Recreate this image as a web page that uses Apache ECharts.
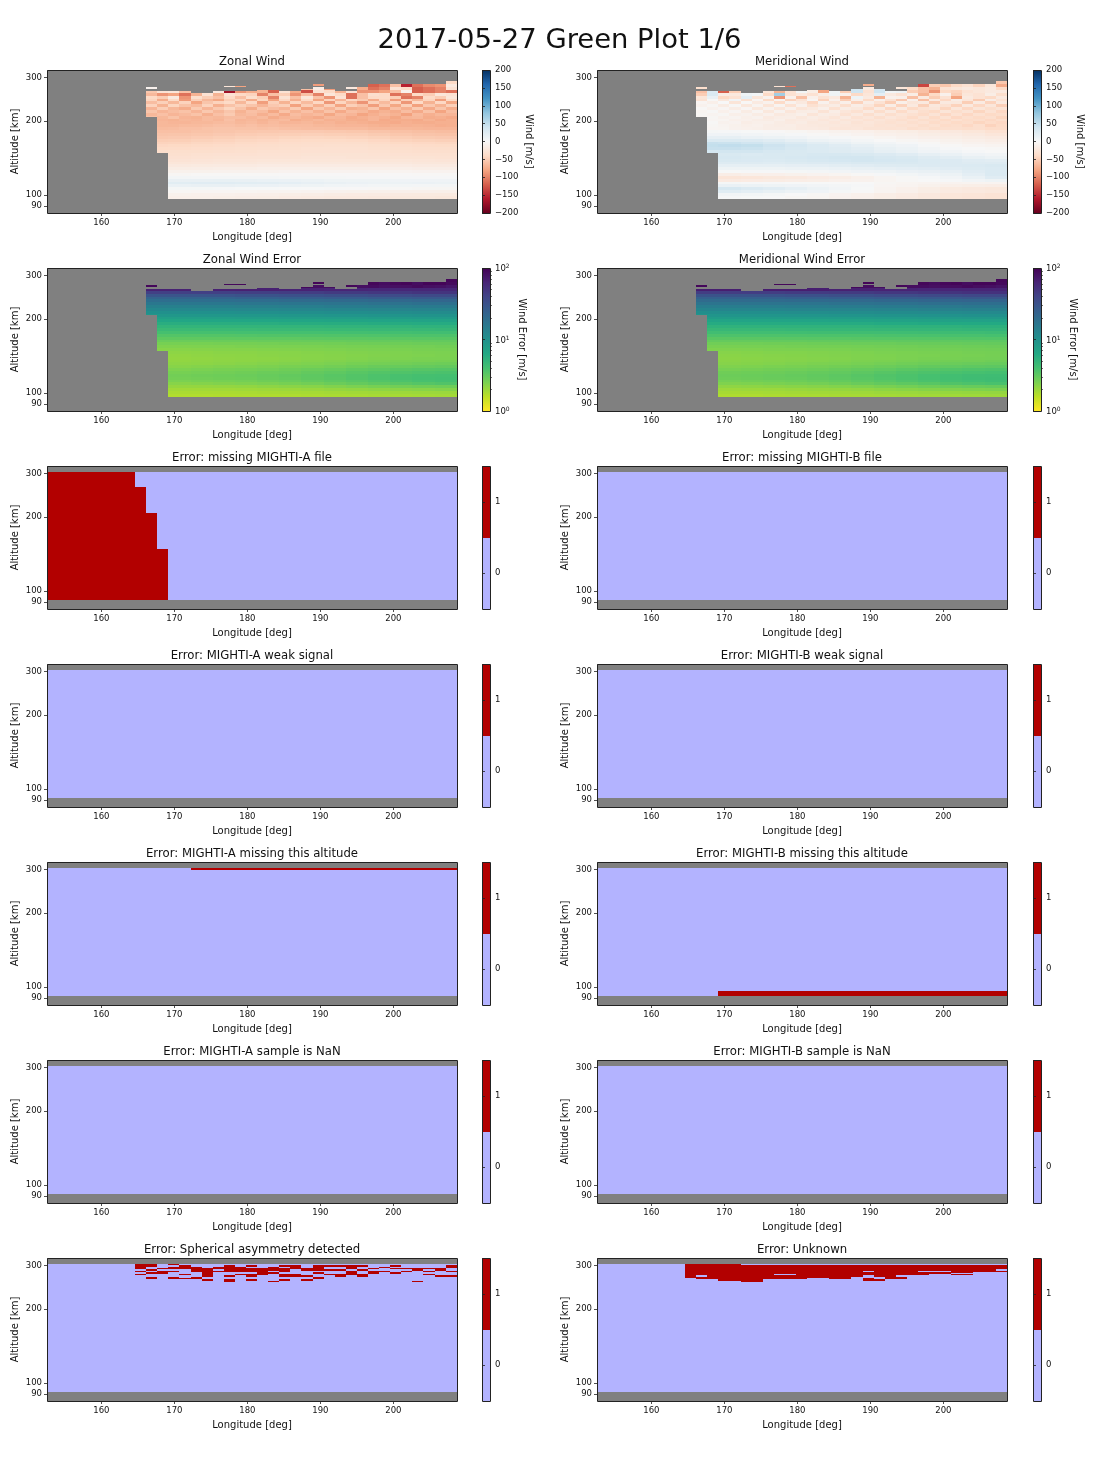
<!DOCTYPE html>
<html>
<head>
<meta charset="utf-8">
<title>2017-05-27 Green Plot 1/6</title>
<script src="https://cdn.jsdelivr.net/npm/echarts@6/dist/echarts.min.js"></script>
<style>
html,body{margin:0;padding:0;background:#fff}
#main{width:1120px;height:1470px}
</style>
</head>
<body>
<div id="main"></div>
<script>
// axes
var lonTicks = [160,170,180,190,200];
var altTicks = [90,100,200,300];
var altTickRows = [4.7,12.4,64.3,94.7];
var windTicks = [-200,-150,-100,-50,0,50,100,150,200];
var errMajorTicks = [0,1,2];
var errMinorTicks = [0.301,0.477,0.602,0.699,0.778,0.845,0.903,0.954,1.301,1.477,1.602,1.699,1.778,1.845,1.903,1.954];
var flagTicks = [0,1];
// column edges, longitude
var lonEdges = [152.45,153.97,155.49,157.01,158.53,160.05,161.57,163.09,164.61,166.13,167.65,169.17,170.69,172.21,173.73,175.25,176.77,178.29,179.81,181.33,182.85,184.37,185.89,187.41,188.93,190.45,191.97,193.49,195.01,196.53,198.05,199.57,201.09,202.61,204.13,205.65,207.17,209.00];
// row edges of the value tables
var lowerBandEdges = [10,12,14,16,18,20,22,24,26,28,30,32,34,36,38,40,42,44,46,48,50,52,54,56,58];
var upperBandEdges = [58,60,62,64,66,68,70,72,74,76,78,80,82,84,86];
var flagRows = [6,96];
// first row with data in the low columns, col 8 only in the flag panel
var firstDataCol = 9;
var firstRowByCol = {8:85,9:67,10:42};
// top of the continuous data, cols 9-36
var dataTopRow = [85,85,85,85,84,84,85,85,85,85,86,86,85,85,86,86,86,85,85,86,86,86,86,86,86,86,86,86];
// cells above that: col,row from,row to
var topCells = [[9,87,88],[16,88,89],[17,88,89],[23,86,87],[24,86,88],[24,89,90],[25,86,87],[27,87,88],[28,86,88],[29,86,88],[29,88,90],[30,86,88],[30,88,90],[31,86,88],[31,88,90],[32,86,88],[32,88,90],[33,86,88],[33,88,90],[34,86,88],[34,88,90],[35,86,88],[35,88,90],[36,86,88],[36,88,90],[36,90,92]];

// Zonal Wind, m/s
var zonalLower = [
[-12,-12,-12,-13,-14,-15,-17,-18,-20,-20,-21,-22,-22,-23],
[-9,-9,-10,-10,-11,-12,-13,-14,-16,-17,-17,-18,-19,-19],
[-3,-3,-4,-4,-5,-6,-6,-7,-8,-9,-10,-11,-11,-12],
[2,3,3,2,1,1,0,0,-1,-1,-2,-2,-3,-3],
[14,14,15,15,14,13,11,9,7,6,5,5,4,4],
[22,23,24,24,23,22,20,17,15,13,12,12,13,12],
[15,15,15,16,15,14,13,12,10,10,9,8,8,8],
[5,5,4,4,4,4,3,3,3,2,2,2,2,2],
[-3,-3,-2,-2,-2,-2,-1,-1,-1,-1,-1,-1,-2,-2],
[-10,-9,-9,-8,-8,-8,-7,-7,-7,-7,-6,-6,-7,-7],
[-15,-15,-14,-13,-13,-12,-12,-12,-12,-12,-12,-12,-13,-13],
[-20,-20,-19,-18,-18,-17,-17,-17,-17,-17,-17,-17,-18,-18],
[-25,-25,-24,-23,-23,-22,-22,-22,-22,-22,-22,-22,-23,-23],
[-28,-28,-27,-26,-26,-25,-25,-25,-25,-25,-25,-25,-26,-27],
[-31,-31,-30,-29,-28,-28,-28,-27,-27,-28,-28,-29,-29,-30],
[-33,-33,-32,-31,-31,-30,-30,-29,-29,-29,-30,-31,-32,-32],
[-36,-35,-35,-34,-33,-32,-32,-31,-31,-31,-32,-33,-34,-34],
[-39,-38,-37,-36,-35,-34,-33,-32,-32,-32,-33,-35,-36,-36],
[-42,-41,-40,-38,-37,-36,-35,-34,-33,-33,-35,-37,-38,-39],
[-46,-45,-43,-42,-40,-38,-37,-36,-36,-36,-38,-41,-42,-43],
[-50,-49,-47,-45,-43,-42,-40,-39,-39,-40,-42,-45,-47,-48],
[-54,-53,-51,-49,-47,-46,-44,-43,-44,-45,-47,-50,-52,-53],
[-57,-56,-55,-53,-51,-50,-49,-48,-49,-50,-52,-55,-57,-58],
[-60,-60,-58,-56,-55,-54,-53,-53,-54,-55,-57,-59,-61,-62]];
var zonalUpper = [
[-62,-63,-62,-60,-60,-58,-57,-57,-58,-58,-59,-58,-60,-61,-62,-62,-63,-64,-64,-64,-66,-66,-66,-66,-67,-68,-68,-68],
[-64,-66,-66,-64,-64,-62,-60,-60,-62,-60,-63,-62,-64,-64,-64,-66,-66,-68,-68,-68,-70,-72,-70,-71,-70,-71,-73,-72],
[-56,-66,-68,-68,-66,-66,-64,-62,-66,-64,-68,-64,-68,-68,-66,-70,-68,-72,-70,-72,-74,-74,-76,-72,-74,-74,-72,-72],
[-54,-68,-70,-66,-68,-64,-68,-60,-68,-66,-70,-66,-64,-74,-70,-66,-72,-70,-74,-74,-68,-76,-74,-74,-76,-70,-76,-72],
[-60,-66,-58,-68,-70,-64,-66,-62,-62,-68,-64,-74,-68,-66,-72,-76,-66,-68,-76,-72,-68,-72,-78,-68,-66,-74,-72,-76],
[-66,-60,-68,-64,-58,-72,-60,-52,-66,-62,-72,-64,-76,-62,-68,-64,-78,-64,-68,-80,-72,-66,-70,-82,-64,-72,-66,-68],
[-56,-68,-62,-58,-68,-54,-66,-56,-70,-60,-64,-78,-58,-70,-60,-72,-58,-76,-62,-66,-76,-70,-74,-62,-76,-58,-80,-62],
[-68,-50,-66,-74,-52,-68,-54,-44,-58,-74,-54,-62,-68,-52,-80,-54,-68,-52,-74,-70,-56,-80,-60,-72,-52,-76,-56,-74],
[-46,-70,-44,-58,-64,-46,-72,-58,-48,-56,-68,-54,-48,-82,-50,-72,-48,-80,-48,-58,-84,-54,-78,-48,-82,-54,-70,-48],
[-62,-48,-66,-46,-80,-56,-46,-40,-66,-42,-84,-48,-70,-44,-64,-42,-88,-44,-66,-90,-48,-64,-46,-88,-40,-70,-42,-78],
[-44,-74,-40,-86,-48,-66,-78,-50,-44,-74,-44,-80,-42,-72,-40,-80,-46,-68,-42,-52,-74,-44,-84,-48,-66,-44,-84,-40],
[-40,-50,-20,-90,-35,-50,-60,-40,-60,-35,-50,-100,-30,-60,-25,-60,-90,-30,-110,-60,-40,-40,-50,-110,-100,-40,-50,-25],
[-65,-90,-80,-110,-70,-30,-70,-30,-40,-45,-100,-60,-50,-90,-60,-100,-25,-40,-110,-60,-35,-40,-110,-100,-40,-50,-25,-30],
[-55,-30,-25,-60,-70,-30,-20,-170,-90,-75,-70,-120,-30,-75,-130,-30,-40,-70,-30,-90,-90,-80,-60,-10,-120,-110,-100,-110]];
var zonalTop = [-8,-25,-80,-60,-15,-85,-85,-20,-75,-110,-120,-100,-110,-30,-60,-40,-155,-120,-110,-110,-95,-100,-90,-30,-20,-40];

// Meridional Wind, m/s
var meridLower = [
[2,2,1,0,-3,-5,-8,-11,-15,-18,-22,-25,-27,-29],
[6,6,5,3,0,-3,-7,-10,-14,-17,-21,-24,-26,-28],
[26,24,20,16,12,8,3,-1,-6,-10,-15,-18,-20,-22],
[36,34,28,24,18,12,6,1,-6,-10,-15,-19,-21,-23],
[14,14,12,10,8,6,4,2,-4,-6,-9,-12,-13,-14],
[3,3,2,2,1,1,0,0,-3,-5,-6,-7,-6,-6],
[-18,-18,-17,-16,-14,-13,-10,-8,-5,-2,0,2,6,10],
[-26,-26,-24,-22,-20,-17,-14,-10,-5,-2,2,6,14,24],
[-14,-14,-12,-11,-9,-7,-5,-2,2,5,8,12,20,30],
[0,1,2,2,3,4,6,8,10,13,15,18,24,30],
[10,10,10,10,12,12,14,16,18,20,22,24,27,30],
[18,18,18,18,19,20,22,24,26,27,28,28,30,32],
[26,26,26,25,27,28,30,32,32,32,30,28,26,26],
[32,32,31,30,32,34,36,38,36,34,30,28,24,22],
[34,34,32,32,34,36,38,38,34,32,26,22,16,12],
[32,32,30,32,32,34,34,32,28,24,18,14,8,6],
[36,38,38,34,32,30,26,24,18,14,8,6,2,0],
[46,46,44,40,34,30,26,22,16,12,6,2,0,-2],
[48,50,48,42,36,30,24,18,12,8,2,-2,-4,-6],
[46,44,40,34,28,22,16,10,6,2,-2,-6,-8,-10],
[30,30,28,24,18,12,8,4,0,-3,-6,-9,-12,-14],
[18,18,14,12,8,4,2,-2,-5,-8,-11,-13,-16,-18],
[8,8,6,4,2,-2,-4,-7,-10,-12,-15,-17,-20,-24],
[3,2,1,-1,-3,-6,-8,-10,-13,-15,-18,-21,-25,-30]];
var meridUpper = [
[-3,-4,-5,-8,-10,-12,-14,-14,-15,-18,-18,-20,-24,-26,-24,-28,-28,-30,-28,-34,-32,-36,-34,-34,-36,-34,-38,-38],
[-2,-3,-6,-9,-12,-10,-14,-16,-14,-18,-20,-22,-22,-24,-26,-26,-30,-28,-32,-30,-36,-32,-38,-36,-42,-34,-46,-40],
[-2,-2,-8,-7,-14,-12,-12,-16,-18,-16,-22,-20,-24,-22,-28,-24,-28,-32,-28,-34,-30,-38,-34,-40,-36,-44,-38,-42],
[0,-4,-5,-10,-10,-14,-16,-12,-20,-18,-18,-24,-20,-26,-24,-30,-26,-30,-34,-30,-36,-34,-40,-32,-38,-36,-42,-36],
[-4,-3,-8,-6,-12,-8,-18,-14,-14,-22,-16,-20,-26,-18,-30,-24,-34,-24,-30,-38,-28,-40,-30,-42,-34,-40,-34,-44],
[-3,-6,-3,-12,-8,-16,-10,-20,-16,-12,-26,-16,-18,-30,-20,-34,-22,-34,-26,-32,-38,-28,-42,-30,-42,-32,-40,-36],
[-5,-2,-10,-4,-16,-6,-22,-8,-24,-16,-14,-28,-14,-24,-32,-18,-36,-20,-38,-24,-34,-40,-26,-36,-28,-44,-30,-42],
[-2,-8,-4,-14,-4,-22,-8,-24,-10,-26,-20,-12,-32,-16,-22,-38,-18,-42,-18,-40,-30,-26,-44,-24,-42,-26,-36,-28],
[-8,-3,-16,-2,-22,-6,-26,-6,-30,-10,-32,-22,-16,-34,-14,-24,-44,-14,-46,-20,-48,-22,-30,-46,-20,-42,-24,-48],
[-4,-12,0,-26,-2,-18,-8,-38,-8,-20,-42,-8,-28,-12,-46,-14,-30,-50,-12,-26,-20,-52,-20,-22,-50,-18,-46,-20],
[-28,-2,-22,6,-32,-4,-40,-6,-46,-28,-4,-46,-10,-50,-12,-40,-10,-30,-54,-10,-60,-18,-42,-14,-24,-52,-14,-30],
[-25,15,-40,-30,20,-25,-8,-90,-10,-60,-10,-30,-20,-70,10,-20,-70,-10,-12,-60,-20,-50,-30,-80,-20,-30,-40,-20],
[-50,30,-15,-20,10,5,-40,70,-30,-20,-30,-15,10,-10,-40,-25,20,-20,-30,-15,-70,-40,-10,-50,-25,-30,-15,-35],
[-60,30,-120,-50,50,10,-25,-70,-30,5,-15,-80,10,-50,40,-30,40,5,10,-50,-60,-90,-40,-45,-30,-25,-20,-20]];
var meridTop = [-35,-30,-110,40,-20,-75,35,-25,-40,-60,-135,-70,-50,-30,-55,-25,-40,-20,-30,-25,-45,-20,-25,-40,-75,-55];

// Wind errors, m/s
var zonalErrLower = [
[1.72,1.72,1.72,1.73,1.74,1.75,1.76,1.78,1.8,1.82,1.84,1.86,1.88,1.9],
[1.8,1.8,1.8,1.8,1.82,1.84,1.85,1.87,1.9,1.92,1.95,1.98,2,2.02],
[1.92,1.92,1.92,1.94,1.96,1.98,2,2.05,2.1,2.15,2.2,2.25,2.3,2.35],
[2.08,2.1,2.1,2.12,2.15,2.2,2.25,2.3,2.4,2.5,2.6,2.7,2.75,2.8],
[2.3,2.3,2.35,2.4,2.45,2.5,2.6,2.7,2.85,3,3.15,3.3,3.45,3.55],
[2.5,2.5,2.55,2.6,2.65,2.75,2.85,3,3.15,3.3,3.5,3.7,3.85,3.95],
[2.65,2.65,2.7,2.75,2.8,2.9,3,3.15,3.3,3.5,3.7,3.85,4,4.05],
[2.7,2.7,2.75,2.8,2.85,2.95,3.05,3.2,3.35,3.5,3.7,3.85,3.95,4],
[2.6,2.6,2.65,2.7,2.75,2.85,2.9,3.05,3.2,3.35,3.5,3.6,3.7,3.75],
[2.45,2.45,2.5,2.55,2.6,2.65,2.75,2.85,2.95,3.1,3.2,3.3,3.4,3.45],
[2.3,2.3,2.35,2.4,2.42,2.48,2.55,2.6,2.7,2.8,2.9,2.95,3,3.05],
[2.2,2.2,2.22,2.25,2.3,2.35,2.4,2.45,2.5,2.6,2.65,2.7,2.75,2.8],
[2.15,2.15,2.18,2.2,2.22,2.25,2.3,2.35,2.4,2.45,2.5,2.55,2.55,2.6],
[2.12,2.12,2.15,2.18,2.2,2.22,2.25,2.3,2.32,2.38,2.42,2.45,2.5,2.5],
[2.15,2.15,2.18,2.2,2.22,2.25,2.28,2.3,2.33,2.36,2.4,2.42,2.45,2.48],
[2.2,2.2,2.22,2.25,2.25,2.28,2.3,2.33,2.36,2.4,2.42,2.45,2.48,2.5],
[2.3,2.3,2.32,2.35,2.35,2.38,2.4,2.42,2.45,2.48,2.5,2.52,2.55,2.58],
[2.42,2.42,2.45,2.45,2.48,2.5,2.5,2.52,2.55,2.58,2.6,2.62,2.65,2.68],
[2.6,2.6,2.6,2.62,2.62,2.65,2.68,2.7,2.72,2.75,2.78,2.8,2.82,2.85],
[2.85,2.85,2.85,2.88,2.88,2.9,2.9,2.92,2.95,2.98,3,3,3.05,3.05],
[3.15,3.15,3.15,3.15,3.18,3.2,3.2,3.22,3.25,3.25,3.28,3.3,3.32,3.35],
[3.5,3.5,3.5,3.5,3.52,3.55,3.55,3.55,3.58,3.6,3.62,3.65,3.68,3.7],
[3.95,3.95,3.95,3.95,3.98,4,4,4,4.02,4.05,4.08,4.1,4.12,4.15],
[4.5,4.5,4.5,4.5,4.52,4.55,4.55,4.55,4.6,4.6,4.65,4.65,4.7,4.72]];
var zonalErrUpper = [
[5,5,5,5,5.1,5.1,5.2],
[5.7,5.7,5.7,5.8,5.8,5.9,6],
[6.6,6.6,6.6,6.7,6.8,6.9,7],
[7.6,7.6,7.7,7.8,7.9,8,8.2],
[8.8,8.8,8.9,9,9.2,9.4,9.6],
[10.2,10.2,10.3,10.5,10.7,11,11.2],
[11.8,11.8,12,12.2,12.5,12.8,13],
[13.8,13.8,14,14.2,14.6,15,15.4],
[16,16,16.4,16.8,17.2,17.8,18.2],
[19,19,19.5,20,20.6,21.4,22],
[23,23,24,25,26,27,28],
[30,30,31,32,33,35,36],
[42,42,43,44,46,48,50],
[65,65,66,64,62,60,60]];
var zonalErrTop = [92,90,92,90,82,95,85,92,82,85,92,80,85,82,92,82,95,88,85,82,95,80,95,75,88,92];
var meridErrLower = [
[1.76,1.76,1.76,1.78,1.8,1.82,1.84,1.86,1.88,1.9,1.92,1.94,1.96,1.98],
[1.85,1.85,1.85,1.88,1.9,1.92,1.94,1.96,2,2.02,2.05,2.08,2.1,2.12],
[1.98,1.98,2,2,2.04,2.08,2.1,2.15,2.22,2.28,2.34,2.4,2.44,2.48],
[2.18,2.18,2.2,2.24,2.28,2.32,2.38,2.45,2.55,2.66,2.78,2.88,2.95,3],
[2.42,2.42,2.46,2.52,2.58,2.65,2.75,2.9,3.05,3.2,3.35,3.55,3.7,3.8],
[2.62,2.62,2.68,2.74,2.8,2.9,3.02,3.18,3.35,3.55,3.75,3.95,4.1,4.2],
[2.78,2.78,2.84,2.9,2.96,3.06,3.18,3.34,3.52,3.72,3.92,4.1,4.25,4.3],
[2.84,2.84,2.88,2.94,3,3.1,3.22,3.38,3.55,3.72,3.92,4.08,4.2,4.25],
[2.75,2.75,2.8,2.84,2.9,3,3.08,3.22,3.38,3.55,3.7,3.82,3.92,3.98],
[2.58,2.58,2.62,2.68,2.74,2.8,2.9,3,3.12,3.28,3.4,3.5,3.6,3.65],
[2.42,2.42,2.46,2.52,2.55,2.62,2.68,2.75,2.85,2.96,3.05,3.12,3.18,3.22],
[2.32,2.32,2.34,2.38,2.42,2.48,2.52,2.58,2.65,2.74,2.8,2.85,2.9,2.95],
[2.26,2.26,2.3,2.32,2.35,2.38,2.42,2.48,2.52,2.58,2.64,2.68,2.7,2.75],
[2.24,2.24,2.26,2.3,2.32,2.35,2.38,2.42,2.45,2.5,2.55,2.58,2.62,2.65],
[2.26,2.26,2.3,2.32,2.34,2.38,2.4,2.42,2.46,2.5,2.52,2.55,2.58,2.62],
[2.32,2.32,2.34,2.38,2.38,2.4,2.42,2.46,2.5,2.52,2.55,2.58,2.62,2.64],
[2.42,2.42,2.45,2.48,2.48,2.5,2.52,2.55,2.58,2.62,2.64,2.66,2.7,2.72],
[2.56,2.56,2.58,2.58,2.62,2.64,2.64,2.66,2.7,2.72,2.75,2.76,2.8,2.82],
[2.74,2.74,2.74,2.76,2.76,2.8,2.82,2.85,2.86,2.9,2.92,2.95,2.98,3],
[3,3,3,3.04,3.04,3.05,3.05,3.08,3.1,3.14,3.16,3.16,3.2,3.2],
[3.3,3.3,3.3,3.3,3.34,3.36,3.36,3.38,3.42,3.42,3.45,3.48,3.5,3.52],
[3.68,3.68,3.68,3.68,3.7,3.72,3.72,3.72,3.76,3.78,3.8,3.84,3.86,3.9],
[4.15,4.15,4.15,4.15,4.18,4.2,4.2,4.2,4.22,4.26,4.28,4.3,4.32,4.36],
[4.7,4.7,4.7,4.7,4.74,4.78,4.78,4.78,4.82,4.82,4.88,4.88,4.94,4.96]];
var meridErrUpper = [
[5.2,5.2,5.2,5.2,5.3,5.3,5.4],
[6,6,6,6,6.1,6.2,6.2],
[6.9,6.9,6.9,7,7.1,7.2,7.3],
[8,8,8,8.1,8.2,8.4,8.5],
[9.2,9.2,9.3,9.4,9.6,9.8,10],
[10.6,10.6,10.8,11,11.2,11.4,11.6],
[12.4,12.4,12.6,12.8,13,13.4,13.6],
[14.4,14.4,14.6,15,15.2,15.6,16],
[17,17,17.2,17.6,18,18.6,19],
[20,20,20.4,21,21.6,22.4,23],
[24,24,25,26,27,28,29],
[31,31,32,33,35,36,37],
[44,44,45,46,48,50,52],
[68,68,68,66,64,62,62]];
var meridErrTop = [92,92,92,90,84,95,85,92,84,85,92,82,86,84,92,84,95,90,86,84,95,82,95,78,90,92];

// Error flags, red spans as col,row from,row to
var missingAFileSpans = [[0,6,96],[1,6,96],[2,6,96],[3,6,96],[4,6,96],[5,6,96],[6,6,96],[7,6,96],[8,6,85],[9,6,67],[10,6,42]];
var missingAAltSpans = [[13,94.6,96],[14,94.6,96],[15,94.6,96],[16,94.6,96],[17,94.6,96],[18,94.6,96],[19,94.6,96],[20,94.6,96],[21,94.6,96],[22,94.6,96],[23,94.6,96],[24,94.6,96],[25,94.6,96],[26,94.6,96],[27,94.6,96],[28,94.6,96],[29,94.6,96],[30,94.6,96],[31,94.6,96],[32,94.6,96],[33,94.6,96],[34,94.6,96],[35,94.6,96],[36,94.6,96]];
var missingBAltSpans = [[11,6,10],[12,6,10],[13,6,10],[14,6,10],[15,6,10],[16,6,10],[17,6,10],[18,6,10],[19,6,10],[20,6,10],[21,6,10],[22,6,10],[23,6,10],[24,6,10],[25,6,10],[26,6,10],[27,6,10],[28,6,10],[29,6,10],[30,6,10],[31,6,10],[32,6,10],[33,6,10],[34,6,10],[35,6,10],[36,6,10]];
var sphericalSpans = [[8,92,96],[8,90,91],[8,88,89],[9,94,96],[9,91,92],[9,89,90],[9,85,87],[10,92,93],[10,89,91],[11,95,96],[11,92,94],[11,90,91],[11,85,87],[12,92,95],[12,88,89],[12,85,86],[13,90,94],[13,85,87],[14,87,93],[14,84,85],[15,92,94],[15,90,91],[16,90,95],[16,87,88],[16,83,85],[17,90,94],[17,88,89],[18,94,95],[18,90,93],[18,87,89],[18,84,85],[19,88,93],[20,92,94],[20,91,92],[20,89,90],[20,83,84],[21,94,95],[21,90,93],[21,87,89],[21,84,85],[22,92,95],[22,87,89],[23,91,93],[23,87,88],[23,84,85],[24,91,95],[24,89,90],[24,85,87],[25,94,95],[25,91,92],[25,88,89],[26,94,95],[26,91,92],[26,87,89],[27,92,95],[27,88,91],[28,94,95],[28,91,92],[28,87,89],[29,92,93],[29,89,91],[30,93,94],[30,90,91],[31,94,95],[31,92,93],[31,89,90],[32,92,93],[32,90,91],[33,91,93],[33,83,84],[34,92,93],[34,90,91],[34,88,89],[35,91,93],[35,87,88],[36,93,95],[36,90,91],[36,87,88]];
// Unknown: red from bottom to top for cols 8-36, then holes
var unknownCols = [8,9,10,11,12,13,14,15,16,17,18,19,20,21,22,23,24,25,26,27,28,29,30,31,32,33,34,35,36];
var unknownTop = [96,96,96,96,96,95,95,95,95,95,95,95,95,95,95,95,95,95,95,95,95,95,95,95,95,95,95,95,95];
var unknownBottom = [86,85,85,84,84,83,83,85,85,85,85,86,86,85,85,87,84,84,85,85,88,88,89,89,88,88,90,90,90];
var unknownHoles = [[9,87,88],[16,88,89],[17,88,89],[24,90,91],[24,86,88],[25,85.5,87],[27,87,88],[29,90,91],[30,90,91],[31,90,91],[32,88.6,89.4],[33,88.6,89.4],[36,91,92]];

// colours
var rdbuStops = ['#67001f','#b2182b','#d6604d','#f4a582','#fddbc7','#f7f7f7','#d1e5f0','#92c5de','#4393c3','#2166ac','#053061'];
var viridisStops = ['#fde725','#bddf26','#7ad151','#44bf70','#22a884','#21918c','#2a788e','#355f8d','#414487','#482475','#440154'];
var flagColors = ['#b3b3ff','#b20000'];

function hexRgb(h){
	return [parseInt(h.substr(1,2),16),parseInt(h.substr(3,2),16),parseInt(h.substr(5,2),16)];
}
function stopColor(stops,t){
	t = Math.max(0,Math.min(1,t))*(stops.length-1);
	var i = Math.min(Math.floor(t),stops.length-2);
	var a = hexRgb(stops[i]), b = hexRgb(stops[i+1]), f = t-i;
	return 'rgb('+Math.round(a[0]+(b[0]-a[0])*f)+','+Math.round(a[1]+(b[1]-a[1])*f)+','+Math.round(a[2]+(b[2]-a[2])*f)+')';
}
var windColor = function(v){return stopColor(rdbuStops,(v+200)/400);};
var errColor = function(v){return stopColor(viridisStops,Math.log(v)/Math.LN10/2);};
var flagColor = function(v){return flagColors[v];};

// table -> cells
function bandCells(cells,edges,table){
	table.forEach(function(vals,b){
		for(var i=0;i<dataTopRow.length;i++){
			var col = firstDataCol+i;
			var r0 = Math.max(edges[b],firstRowByCol[col]||0);
			var r1 = Math.min(edges[b+1],dataTopRow[i]);
			if(r1>r0){
				cells.push([lonEdges[col],lonEdges[col+1],r0,r1,vals[Math.floor(i*vals.length/dataTopRow.length)]]);
			}
		}
	});
}
function windCells(lower,upper,top){
	var cells = [];
	bandCells(cells,lowerBandEdges,lower);
	bandCells(cells,upperBandEdges,upper);
	topCells.forEach(function(c,i){
		cells.push([lonEdges[c[0]],lonEdges[c[0]+1],c[1],c[2],top[i]]);
	});
	return cells;
}
function flagCells(spans){
	var cells = [[lonEdges[0],lonEdges[37],flagRows[0],flagRows[1],0]];
	spans.forEach(function(s){
		cells.push([lonEdges[s[0]],lonEdges[s[0]+1],s[1],s[2],1]);
	});
	return cells;
}
function unknownCells(){
	var spans = [];
	unknownCols.forEach(function(c,i){spans.push([c,unknownBottom[i],unknownTop[i]]);});
	var cells = flagCells(spans);
	unknownHoles.forEach(function(s){
		cells.push([lonEdges[s[0]],lonEdges[s[0]+1],s[1],s[2],0]);
	});
	return cells;
}

var panels = [
	{title:'Zonal Wind',cells:windCells(zonalLower,zonalUpper,zonalTop),color:windColor,bar:'wind'},
	{title:'Meridional Wind',cells:windCells(meridLower,meridUpper,meridTop),color:windColor,bar:'wind'},
	{title:'Zonal Wind Error',cells:windCells(zonalErrLower,zonalErrUpper,zonalErrTop),color:errColor,bar:'err'},
	{title:'Meridional Wind Error',cells:windCells(meridErrLower,meridErrUpper,meridErrTop),color:errColor,bar:'err'},
	{title:'Error: missing MIGHTI-A file',cells:flagCells(missingAFileSpans),color:flagColor,bar:'flag'},
	{title:'Error: missing MIGHTI-B file',cells:flagCells([]),color:flagColor,bar:'flag'},
	{title:'Error: MIGHTI-A weak signal',cells:flagCells([]),color:flagColor,bar:'flag'},
	{title:'Error: MIGHTI-B weak signal',cells:flagCells([]),color:flagColor,bar:'flag'},
	{title:'Error: MIGHTI-A missing this altitude',cells:flagCells(missingAAltSpans),color:flagColor,bar:'flag'},
	{title:'Error: MIGHTI-B missing this altitude',cells:flagCells(missingBAltSpans),color:flagColor,bar:'flag'},
	{title:'Error: MIGHTI-A sample is NaN',cells:flagCells([]),color:flagColor,bar:'flag'},
	{title:'Error: MIGHTI-B sample is NaN',cells:flagCells([]),color:flagColor,bar:'flag'},
	{title:'Error: Spherical asymmetry detected',cells:flagCells(sphericalSpans),color:flagColor,bar:'flag'},
	{title:'Error: Unknown',cells:unknownCells(),color:flagColor,bar:'flag'}
];

// layout
var FONT = 'DejaVu Sans';
var TEXT = '#111';
var panelLeft = [47,597];
var panelTop = [70,268,466,664,862,1060,1258];
var panelW = 410, panelH = 143;
var barOffset = [435,436], barW = 8;

var option = {
	animation:false,
	backgroundColor:'#fff',
	textStyle:{fontFamily:FONT},
	title:[{text:'2017-05-27 Green Plot 1/6',left:559.5,top:27,padding:0,textAlign:'center',textStyle:{fontFamily:FONT,fontSize:27.4,fontWeight:'normal',color:TEXT}}],
	grid:[],xAxis:[],yAxis:[],series:[],
	graphic:{elements:[]}
};

function tickStyle(len){
	return {show:true,length:len,lineStyle:{color:'#222',width:0.8}};
}
function frame(x,y,w,h){
	option.graphic.elements.push({type:'rect',z:100,silent:true,shape:{x:x+0.5,y:y+0.5,width:w,height:h},style:{fill:'transparent',stroke:'#222',lineWidth:1}});
}
function cellSeries(gi,yi,cells,color){
	return {
		type:'custom',xAxisIndex:gi,yAxisIndex:yi,data:cells,silent:true,clip:true,
		encode:{x:[0,1],y:[2,3]},
		renderItem:function(params,api){
			var p0 = api.coord([api.value(0),api.value(2)]);
			var p1 = api.coord([api.value(1),api.value(3)]);
			var x0 = Math.round(p0[0]), x1 = Math.round(p1[0]), y0 = Math.round(p0[1]), y1 = Math.round(p1[1]);
			var rect = echarts.graphic.clipRectByRect({x:x0,y:y1,width:x1-x0,height:y0-y1},params.coordSys);
			return rect && {type:'rect',shape:rect,style:{fill:color(api.value(4))}};
		}
	};
}

panels.forEach(function(p,i){
	var left = panelLeft[i%2], top = panelTop[Math.floor(i/2)];
	// main panel
	var gi = option.grid.length;
	option.grid.push({left:left,top:top,width:panelW,height:panelH,show:true,backgroundColor:'#808080',borderWidth:0});
	option.title.push({text:p.title,left:left+205,top:top-14,padding:0,textAlign:'center',textStyle:{fontFamily:FONT,fontSize:11.7,fontWeight:'normal',color:TEXT}});
	option.xAxis.push({
		type:'value',gridIndex:gi,min:152.55,max:208.72,z:10,splitLine:{show:false},axisLine:{show:false},
		axisTick:Object.assign(tickStyle(3),{customValues:lonTicks}),
		axisLabel:{customValues:lonTicks,fontFamily:FONT,fontSize:8.5,color:TEXT,margin:5},
		name:'Longitude [deg]',nameLocation:'middle',nameGap:19,nameTextStyle:{fontFamily:FONT,fontSize:10,color:TEXT}
	});
	var yi = option.yAxis.length;
	option.yAxis.push({
		type:'value',gridIndex:gi,min:0,max:100,z:10,splitLine:{show:false},axisLine:{show:false},
		axisTick:Object.assign(tickStyle(3),{customValues:altTickRows}),
		axisLabel:{customValues:altTickRows,fontFamily:FONT,fontSize:8.5,color:TEXT,margin:5,padding:[2,0,0,0],
			formatter:function(v){return String(altTicks[altTickRows.indexOf(v)]);}},
		name:'Altitude [km]',nameLocation:'middle',nameGap:27,nameTextStyle:{fontFamily:FONT,fontSize:10,color:TEXT}
	});
	option.series.push(cellSeries(gi,yi,p.cells,p.color));
	frame(left,top,panelW,panelH);

	// colour bar
	var barLeft = left+barOffset[i%2];
	var bi = option.grid.length;
	option.grid.push({left:barLeft,top:top,width:barW,height:panelH,show:false});
	option.xAxis.push({type:'value',gridIndex:bi,min:0,max:1,show:false});
	var by = option.yAxis.length;
	var axis = {type:'value',gridIndex:bi,position:'right',z:10,splitLine:{show:false},axisLine:{show:false},nameLocation:'middle',nameRotate:-90,nameTextStyle:{fontFamily:FONT,fontSize:10,color:TEXT}};
	var ticks,fill;
	if(p.bar=='wind'){
		ticks = windTicks; axis.min = -200; axis.max = 200; axis.name = 'Wind [m/s]'; axis.nameGap = 34;
		axis.axisLabel = {formatter:function(v){return String(v).replace('-','\u2212');}};
		fill = rdbuStops;
	}else if(p.bar=='err'){
		ticks = errMajorTicks; axis.min = 0; axis.max = 2; axis.name = 'Wind Error [m/s]'; axis.nameGap = 27;
		axis.axisLabel = {formatter:function(v){return '{b|10}{s|'+v+'}';},rich:{b:{fontFamily:FONT,fontSize:8.5,color:TEXT},s:{fontFamily:FONT,fontSize:6,color:TEXT,padding:[0,0,5,0]}}};
		fill = viridisStops;
	}else{
		ticks = flagTicks; axis.min = -0.5; axis.max = 1.5;
		axis.axisLabel = {};
	}
	axis.axisTick = Object.assign(tickStyle(3),{customValues:ticks});
	axis.axisLabel.customValues = ticks;
	axis.axisLabel.fontFamily = FONT; axis.axisLabel.fontSize = 8.5; axis.axisLabel.color = TEXT; axis.axisLabel.margin = 5; axis.axisLabel.padding = [2,0,0,0];
	option.yAxis.push(axis);
	if(p.bar=='err'){
		option.yAxis.push({type:'value',gridIndex:bi,position:'right',min:0,max:2,z:10,splitLine:{show:false},axisLine:{show:false},axisLabel:{show:false},
			axisTick:Object.assign(tickStyle(1.8),{customValues:errMinorTicks})});
	}
	if(p.bar=='flag'){
		option.series.push(cellSeries(bi,by,[[0,1,-0.5,0.5,0],[0,1,0.5,1.5,1]],flagColor));
	}else{
		option.series.push({
			type:'custom',xAxisIndex:bi,yAxisIndex:by,data:[[0,1,axis.min,axis.max]],silent:true,clip:true,encode:{x:[0,1],y:[2,3]},
			renderItem:(function(stops){return function(params,api){
				var p0 = api.coord([api.value(0),api.value(2)]);
				var p1 = api.coord([api.value(1),api.value(3)]);
				var colors = stops.map(function(c,k){return {offset:k/(stops.length-1),color:c};});
				return {type:'rect',shape:{x:p0[0],y:p1[1],width:p1[0]-p0[0],height:p0[1]-p1[1]},
					style:{fill:new echarts.graphic.LinearGradient(0,1,0,0,colors)}};
			};})(fill)
		});
	}
	frame(barLeft,top,barW,panelH);
});

var chart = echarts.init(document.getElementById('main'));
chart.setOption(option);
</script>
</body>
</html>
